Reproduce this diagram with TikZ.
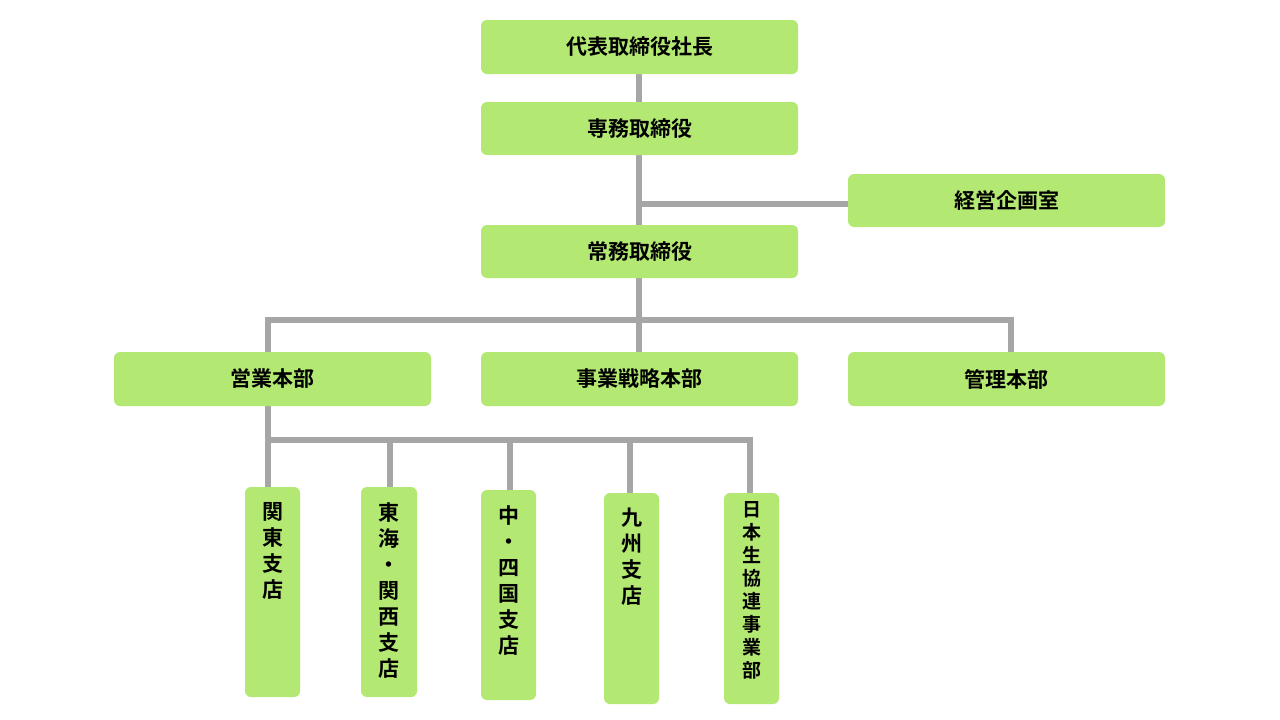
\documentclass[tikz,border=0pt]{standalone}
\usepackage{fontspec}
\newfontfamily\cjk{Noto Sans CJK JP}[BoldFont={Noto Sans CJK JP Bold}]
\definecolor{boxg}{HTML}{B3E872}
\definecolor{lin}{HTML}{A6A6A6}
\begin{document}
\begin{tikzpicture}[x=1pt,y=-1pt,
  bx/.style={fill=boxg,rounded corners=6pt,inner sep=0pt,font=\cjk\bfseries\fontsize{21}{24}\selectfont},
  vt/.style={fill=boxg,rounded corners=6pt,font=\cjk\bfseries\fontsize{21}{26}\selectfont,align=center},
  ln/.style={draw=lin,line width=6pt}]
\useasboundingbox (0,0) rectangle (1280,720);
\newcommand\hb[6]{\fill[boxg,rounded corners=6pt] (#2,#3) rectangle (#4,#5); \node[font=\cjk\bfseries\fontsize{21}{24}\selectfont] (#1) at ({(#2+#4)/2},{(#3+#5)/2}) {#6};}
\newcommand\vb[6]{\fill[boxg,rounded corners=6pt] (#2,#3) rectangle (#4,#5); \node[font=\cjk\bfseries\fontsize{21}{26}\selectfont,align=center,anchor=north,inner sep=0pt] (#1) at ({(#2+#4)/2},#3+15) {#6};}
% lines
\coordinate (c1) at (639,74);
\coordinate (c2) at (639,352);
\coordinate (j1) at (639,204);
\coordinate (j2) at (848,204);
\draw[ln] (c1) -- (c2);
\draw[ln] (j1) -- (j2);
\coordinate (hl) at (268,320);
\coordinate (hr) at (1011,320);
\draw[ln] (268,352) -- (hl) -- (hr) -- (1011,352);
\coordinate (b0) at (268,406);
\coordinate (bl) at (268,440);
\coordinate (br) at (750,440);
\draw[ln] (b0) -- (268,487);
\draw[ln] (bl) -- (br);
\draw[ln] (390,440) -- (390,487);
\draw[ln] (510,440) -- (510,490);
\draw[ln] (630,440) -- (630,493);
\draw[ln] (750,437) -- (750,493);
% boxes
\hb{a}{481}{20}{798}{74}{代表取締役社長}
\hb{b}{481}{102}{798}{155}{専務取締役}
\hb{k}{848}{174}{1165}{227}{経営企画室}
\hb{c}{481}{225}{798}{278}{常務取締役}
\hb{e}{114}{352}{431}{406}{営業本部}
\hb{s}{481}{352}{798}{406}{事業戦略本部}
\hb{m}{848}{352}{1165}{406}{管理本部}
\vb{v1}{245}{487}{300}{697}{関\\東\\支\\店}
\vb{v2}{361}{487}{417}{697}{東\\海\\・\\関\\西\\支\\店}
\vb{v3}{481}{490}{536}{700}{中\\・\\四\\国\\支\\店}
\vb{v4}{604}{493}{659}{704}{九\\州\\支\\店}
\node[font=\cjk\bfseries\fontsize{19}{22}\selectfont,align=center,anchor=north,inner sep=0pt] (v5h) at (751.5,500) {};
\fill[boxg,rounded corners=6pt] (724,493) rectangle (779,704);
\node[font=\cjk\bfseries\fontsize{19}{23}\selectfont,align=center,anchor=north,inner sep=0pt] (v5) at (751.5,501) {日\\本\\生\\協\\連\\事\\業\\部};
\end{tikzpicture}
\end{document}
